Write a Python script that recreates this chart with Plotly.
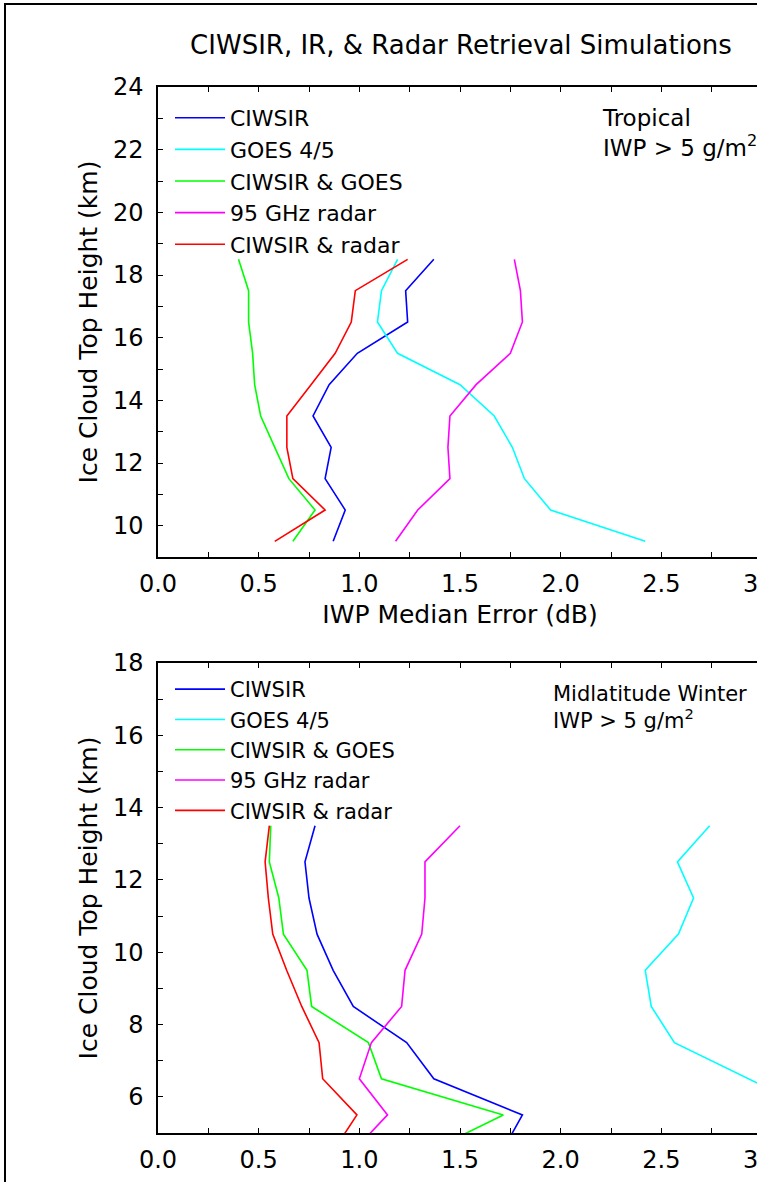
import plotly.graph_objects as go

W, H = 768, 1182

# Series shared by both panels
series_names = ["CIWSIR", "GOES 4/5", "CIWSIR & GOES", "95 GHz radar", "CIWSIR & radar"]
series_colors = ["#0000ff", "#00ffff", "#00ff00", "#ff00ff", "#ff0000"]

# Tropical profiles: IWP median error (dB) vs ice cloud top height (km)
heights_trop = [18.5, 17.5, 16.5, 15.5, 14.5, 13.5, 12.5, 11.5, 10.5, 9.5]
trop_ciwsir = [1.37, 1.23, 1.24, 0.99, 0.85, 0.77, 0.86, 0.83, 0.93, 0.87]
trop_goes = [1.19, 1.11, 1.09, 1.19, 1.50, 1.67, 1.76, 1.82, 1.95, 2.42]
trop_ciwsir_goes = [0.40, 0.45, 0.45, 0.47, 0.48, 0.51, 0.58, 0.65, 0.78, 0.67]
trop_radar = [1.77, 1.80, 1.81, 1.75, 1.58, 1.45, 1.44, 1.45, 1.29, 1.18]
trop_ciwsir_radar = [1.24, 0.98, 0.96, 0.88, 0.76, 0.64, 0.64, 0.67, 0.83, 0.58]

# Midlatitude winter profiles
heights_mlw = [13.5, 12.5, 11.5, 10.5, 9.5, 8.5, 7.5, 6.5, 5.5, 4.5]
mlw_ciwsir = [0.78, 0.73, 0.75, 0.79, 0.87, 0.97, 1.235, 1.37, 1.81, 1.71]
mlw_goes = [2.74, 2.58, 2.66, 2.585, 2.42, 2.45, 2.565, 2.93, 3.30, 3.60]
mlw_ciwsir_goes = [0.56, 0.553, 0.60, 0.623, 0.74, 0.763, 1.045, 1.11, 1.715, 1.35]
mlw_radar = [1.50, 1.326, 1.326, 1.31, 1.227, 1.21, 1.06, 1.00, 1.14, 0.97]
mlw_ciwsir_radar = [0.553, 0.532, 0.548, 0.57, 0.639, 0.714, 0.80, 0.818, 0.988, 0.87]

# Axis ticks
x_tickvals = [0.0, 0.25, 0.5, 0.75, 1.0, 1.25, 1.5, 1.75, 2.0, 2.25, 2.5, 2.75, 3.0]
x_ticktext = ["0.0", "", "0.5", "", "1.0", "", "1.5", "", "2.0", "", "2.5", "", "3.0"]
y_trop_tickvals = list(range(9, 25))
y_trop_ticktext = [str(v) if v % 2 == 0 else "" for v in y_trop_tickvals]
y_mlw_tickvals = list(range(5, 19))
y_mlw_ticktext = [str(v) if v % 2 == 0 else "" for v in y_mlw_tickvals]

FONT = "DejaVu Sans"

trop = [trop_ciwsir, trop_goes, trop_ciwsir_goes, trop_radar, trop_ciwsir_radar]
mlw = [mlw_ciwsir, mlw_goes, mlw_ciwsir_goes, mlw_radar, mlw_ciwsir_radar]

fig = go.Figure()
for name, color, vals in zip(series_names, series_colors, trop):
    fig.add_trace(go.Scatter(x=vals, y=heights_trop, mode="lines", name=name,
                             line=dict(color=color, width=1.6),
                             xaxis="x", yaxis="y", legend="legend"))
for name, color, vals in zip(series_names, series_colors, mlw):
    fig.add_trace(go.Scatter(x=vals, y=heights_mlw, mode="lines", name=name,
                             line=dict(color=color, width=1.6),
                             xaxis="x2", yaxis="y2", legend="legend2"))

def px_x(p):
    return p / W

def px_y(p):
    return 1 - p / H

axis_common = dict(showline=True, linecolor="black", linewidth=1.5, mirror="ticks",
                   ticks="inside", ticklen=5, tickwidth=1, tickcolor="black",
                   showgrid=False, zeroline=False, automargin=False,
                   ticklabeloverflow="allow",
                   tickfont=dict(family=FONT, size=24, color="black"))
x_common = dict(axis_common, ticklabelstandoff=4)
y_common = dict(axis_common, ticklabelstandoff=8)

x_dom = [px_x(158), px_x(762)]

fig.update_layout(
    template="none",
    width=W, height=H,
    margin=dict(l=0, r=0, t=0, b=0, autoexpand=False),
    paper_bgcolor="white", plot_bgcolor="white",
    font=dict(family=FONT, color="black"),
    title=dict(text="CIWSIR, IR, & Radar Retrieval Simulations",
               x=461 / W, xanchor="center", y=px_y(45), yanchor="middle",
               font=dict(family=FONT, size=26, color="black")),
    xaxis=dict(domain=x_dom, range=[0, 3], anchor="y",
               tickvals=x_tickvals, ticktext=x_ticktext,
               title=dict(text="IWP Median Error (dB)", standoff=9,
                          font=dict(family=FONT, size=25, color="black")),
               **x_common),
    yaxis=dict(domain=[px_y(557), px_y(87)], range=[9, 24], anchor="x",
               tickvals=y_trop_tickvals, ticktext=y_trop_ticktext,
               title=dict(text="Ice Cloud Top Height (km)", standoff=8,
                          font=dict(family=FONT, size=25, color="black")),
               **y_common),
    xaxis2=dict(domain=x_dom, range=[0, 3], anchor="y2",
                tickvals=x_tickvals, ticktext=x_ticktext, **x_common),
    yaxis2=dict(domain=[px_y(1133), px_y(663)], range=[5, 18], anchor="x2",
                tickvals=y_mlw_tickvals, ticktext=y_mlw_ticktext,
                title=dict(text="Ice Cloud Top Height (km)", standoff=8,
                           font=dict(family=FONT, size=25, color="black")),
                **y_common),
    legend=dict(x=px_x(170), y=px_y(97), xanchor="left", yanchor="top",
                bgcolor="rgba(0,0,0,0)", borderwidth=0, itemwidth=50,
                font=dict(family=FONT, size=22, color="black"), tracegroupgap=0),
    legend2=dict(x=px_x(170), y=px_y(669), xanchor="left", yanchor="top",
                 bgcolor="rgba(0,0,0,0)", borderwidth=0, itemwidth=50,
                 font=dict(family=FONT, size=21, color="black"), tracegroupgap=0),
    showlegend=True,
)

# Panel descriptions
fig.add_annotation(text="Tropical<br>IWP > 5 g/m<sup>2</sup>", xref="paper", yref="paper",
                   x=px_x(600), y=px_y(103), xanchor="left", yanchor="top", align="left",
                   showarrow=False, font=dict(family=FONT, size=23, color="black"))
fig.add_annotation(text="Midlatitude Winter<br>IWP > 5 g/m<sup>2</sup>", xref="paper", yref="paper",
                   x=px_x(551), y=px_y(680), xanchor="left", yanchor="top", align="left",
                   showarrow=False, font=dict(family=FONT, size=21, color="black"))

# Outer frame, and the blank strip at the right edge
fig.add_shape(type="rect", xref="paper", yref="paper",
              x0=px_x(5), x1=1.2, y0=-0.2, y1=px_y(4),
              line=dict(color="black", width=2), fillcolor="rgba(0,0,0,0)", layer="above")
fig.add_shape(type="rect", xref="paper", yref="paper",
              x0=px_x(757), x1=1.2, y0=-0.2, y1=1.2,
              line=dict(width=0), fillcolor="white", layer="above")

fig.write_html("out.html")
